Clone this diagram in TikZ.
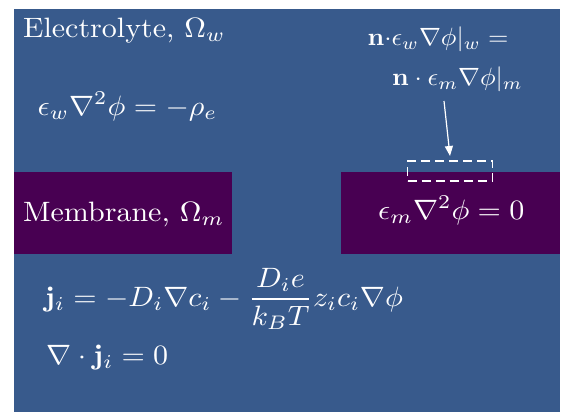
\documentclass[tikz,border=0pt]{standalone}
\usepackage{amsmath}
\usetikzlibrary{arrows.meta}
\definecolor{bgblue}{RGB}{56,90,140}
\definecolor{membr}{RGB}{72,0,82}
\begin{document}
\begin{tikzpicture}[x=1pt,y=-1pt,
  txtbase/.style={text=white,anchor=base west,inner sep=0pt},
  txt/.style={txtbase,xscale=3.0,yscale=2.8},
  txtsm/.style={txtbase,xscale=2.62,yscale=2.5},
  mem/.style={fill=membr},
  dbox/.style={draw=white,line width=1.6pt,dash pattern=on 9pt off 5pt,minimum width=85pt,minimum height=20pt,inner sep=0pt},
  arr/.style={draw=white,line width=1.2pt,-{Triangle[length=10pt,width=8pt]}}]
\useasboundingbox (0,0) rectangle (562,412);
\fill[white] (0,0) rectangle (562,412);
\fill[bgblue] (14,9) rectangle (560,412);
\fill[mem] (14,172) rectangle (232,254);
\fill[mem] (341,172) rectangle (560,254);
\node[txt] (elec) at (22.5,37.5) {Electrolyte, $\Omega_w$};
\node[txt] (eqw) at (37,115) {$\epsilon_w\nabla^2\phi = -\rho_e$};
\node[txtsm] (bc1) at (367,46) {$\mathbf{n}{\cdot}\epsilon_w\nabla\phi|_w =$};
\node[txtsm] (bc2) at (391.5,85.5) {$\mathbf{n}\cdot\epsilon_m\nabla\phi|_m$};
\node[txt] (memb) at (22.5,221) {Membrane, $\Omega_m$};
\node[txt] (eqm) at (377.5,219) {$\epsilon_m\nabla^2\phi = 0$};
\node[txt] (flux) at (44,306) {$\mathbf{j}_i = -D_i\nabla c_i - \dfrac{D_i e}{k_B T} z_i c_i\nabla\phi$};
\node[txt] (div) at (45.5,364) {$\nabla\cdot\mathbf{j}_i = 0$};
\node[dbox] (box) at (450,171) {};
\coordinate (astart) at (444,101);
\coordinate (aend) at (450,156);
\draw[arr] (astart) -- (aend);
\end{tikzpicture}
\end{document}
